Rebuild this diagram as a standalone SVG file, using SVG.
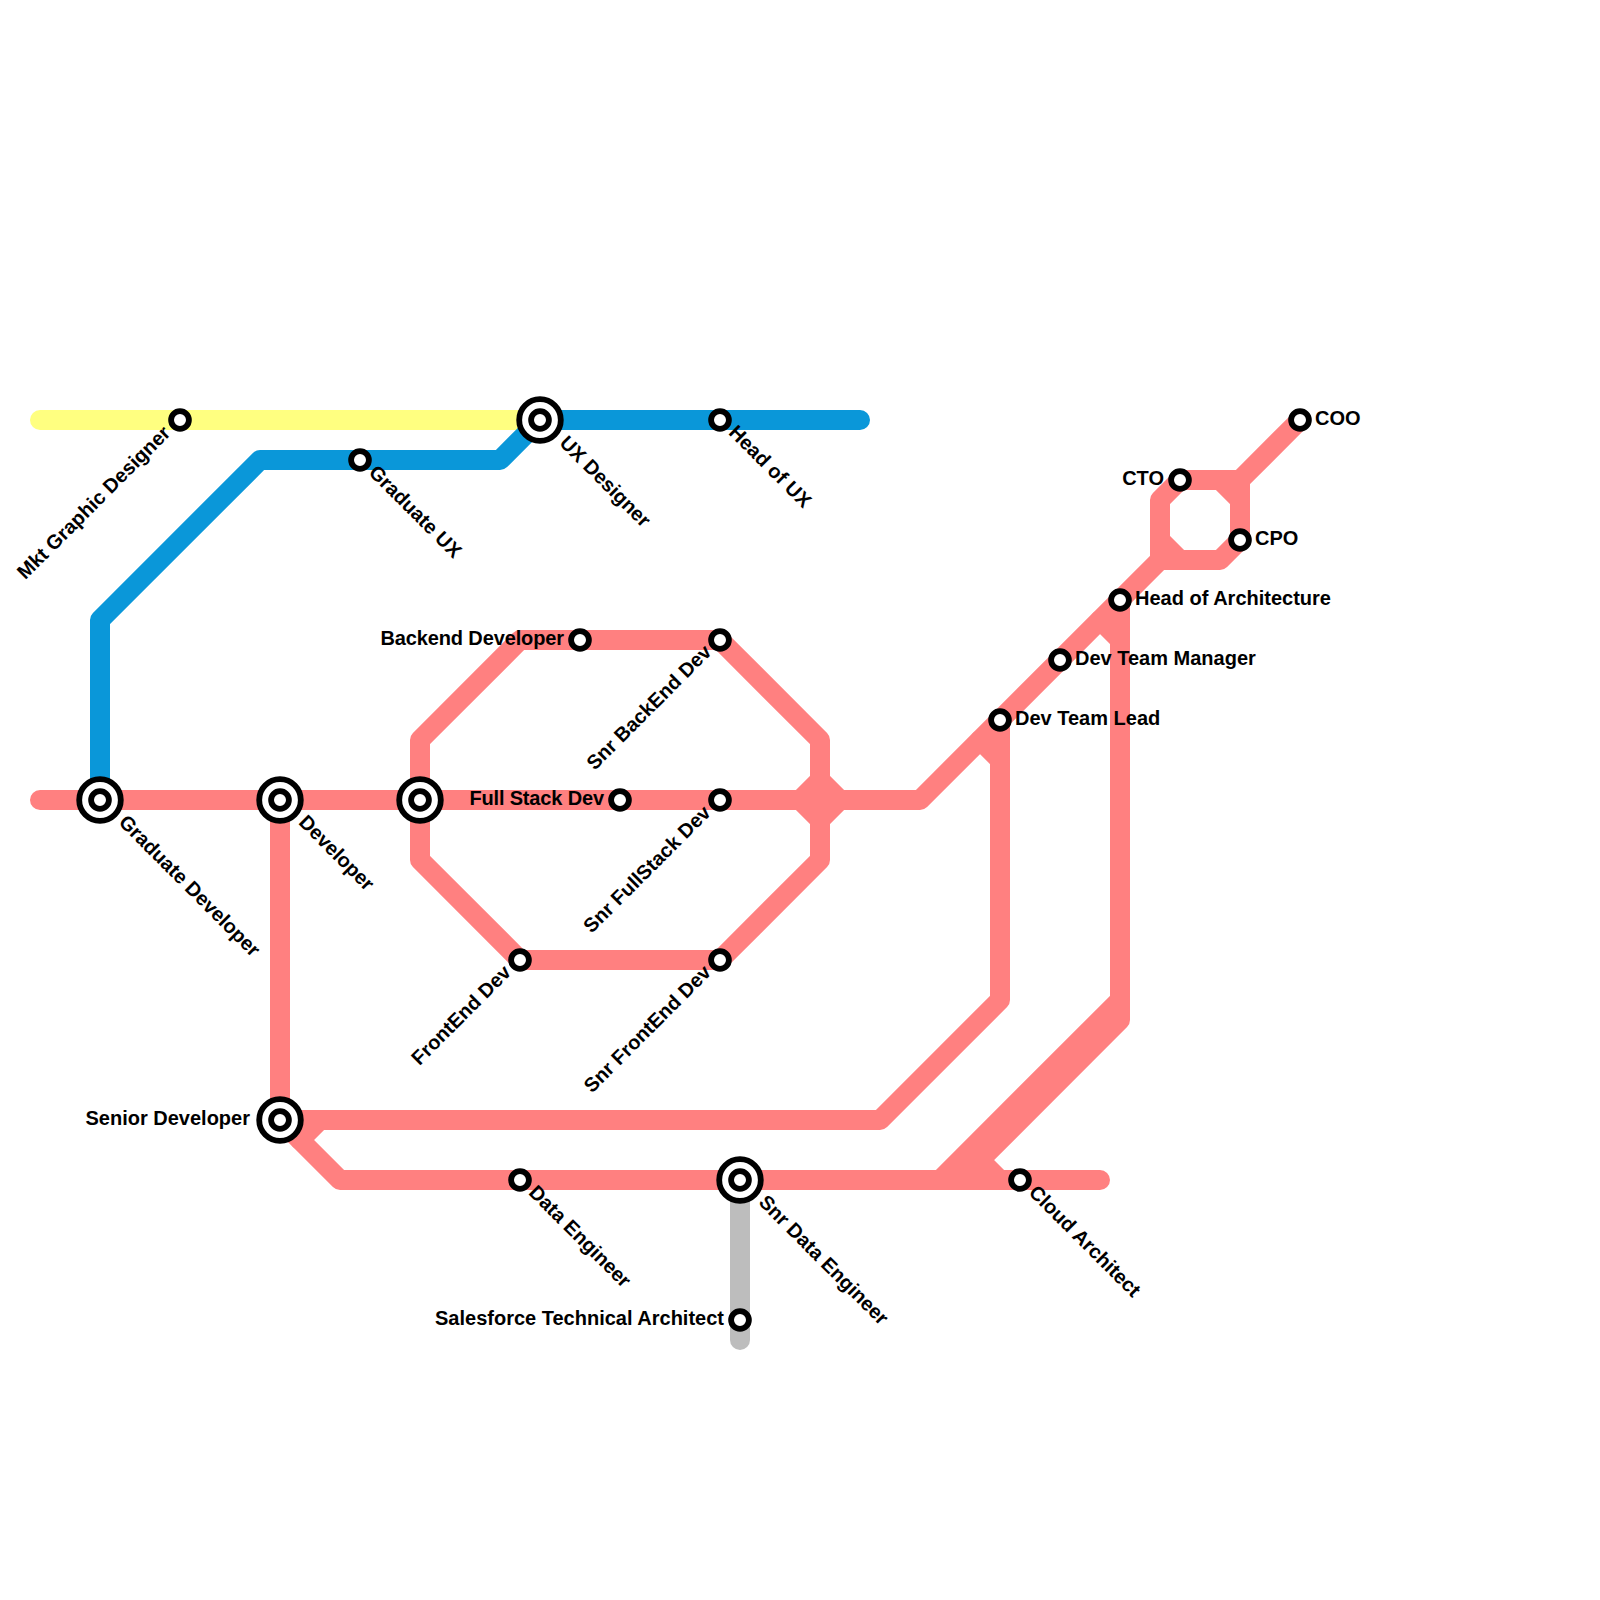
<svg xmlns="http://www.w3.org/2000/svg" width="1600" height="1600" viewBox="0 0 1600 1600">
<style>
.l{fill:none;stroke-width:20;stroke-linecap:round;stroke-linejoin:round}
.p{stroke:#ff8080}.y{stroke:#ffff80}.b{stroke:#0a97d9}.g{stroke:#bdbdbd}
.o{fill:#fff;stroke:#000;stroke-width:5.8}
.i{fill:#fff;stroke:#000;stroke-width:5.8}
text{font-family:"Liberation Sans",Arial,sans-serif;font-weight:bold;font-size:20px;fill:#000}
.e{text-anchor:end}
</style>
<rect width="1600" height="1600" fill="#fff"/>
<defs>
<g id="small"><circle class="i" r="8.9"/></g>
<g id="big"><circle class="o" r="20.8"/><circle class="i" r="8.9"/></g>
</defs>
<g id="connectors">
<path class="l y" d="M40 420H540"/>
<path class="l b" d="M100 800V620L260 460H500L540 420H860"/>
<path class="l g" d="M740 1180V1340"/>
<path class="l p" d="M40 800H920L1160 560"/>
<path class="l p" d="M420 800V740L520 640H720L820 740V860L720 960H520L420 860V800"/>
<path class="l p" d="M800 800L820 780L840 800L820 820Z"/>
<path class="l p" d="M280 800V1120L340 1180H1100"/>
<path class="l p" d="M280 1120H880L1000 1000V720"/>
<path class="l p" d="M1000 760L980 740"/>
<path class="l p" d="M320 1120L300 1140"/>
<path class="l p" d="M940 1180L1120 1000V600"/>
<path class="l p" d="M1120 640L1100 620"/>
<path class="l p" d="M1120 1000V1020L960 1180"/>
<path class="l p" d="M980 1160L1000 1180"/>
<path class="l p" d="M1160 560V500L1180 480H1220L1240 500V540L1220 560H1160"/>
<path class="l p" d="M1160 540L1180 560"/>
<path class="l p" d="M1240 500V480L1300 420"/>
<path class="l p" d="M1220 480H1240"/>
</g>
<g id="n-mkt"><use href="#small" x="180" y="420"/><text class="e" transform="rotate(-45 180 420)" x="164" y="424">Mkt Graphic Designer</text></g>
<g id="n-grad-ux"><use href="#small" x="360" y="460"/><text transform="rotate(45 360 460)" x="375" y="464">Graduate UX</text></g>
<g id="n-ux"><use href="#big" x="540" y="420"/><text transform="rotate(45 540 420)" x="570" y="424">UX Designer</text></g>
<g id="n-head-ux"><use href="#small" x="720" y="420"/><text transform="rotate(45 720 420)" x="735" y="424">Head of UX</text></g>
<g id="n-backend"><use href="#small" x="580" y="640"/><text class="e" x="564" y="645" textLength="183.5">Backend Developer</text></g>
<g id="n-snr-backend"><use href="#small" x="720" y="640"/><text class="e" transform="rotate(-45 720 640)" x="705.5" y="644">Snr BackEnd Dev</text></g>
<g id="n-fullstack"><use href="#small" x="620" y="800"/><text class="e" x="604" y="805" textLength="134.6">Full Stack Dev</text></g>
<g id="n-snr-fullstack"><use href="#small" x="720" y="800"/><text class="e" transform="rotate(-45 720 800)" x="704.5" y="804">Snr FullStack Dev</text></g>
<g id="n-frontend"><use href="#small" x="520" y="960"/><text class="e" transform="rotate(-45 520 960)" x="505" y="964">FrontEnd Dev</text></g>
<g id="n-snr-frontend"><use href="#small" x="720" y="960"/><text class="e" transform="rotate(-45 720 960)" x="705" y="964">Snr FrontEnd Dev</text></g>
<g id="n-grad-dev"><use href="#big" x="100" y="800"/><text transform="rotate(45 100 800)" x="129" y="804">Graduate Developer</text></g>
<g id="n-dev"><use href="#big" x="280" y="800"/><text transform="rotate(45 280 800)" x="309" y="804">Developer</text></g>
<g id="n-hub"><use href="#big" x="420" y="800"/></g>
<g id="n-senior"><use href="#big" x="280" y="1120"/><text class="e" x="250" y="1125">Senior Developer</text></g>
<g id="n-data"><use href="#small" x="520" y="1180"/><text transform="rotate(45 520 1180)" x="535" y="1184">Data Engineer</text></g>
<g id="n-snr-data"><use href="#big" x="740" y="1180"/><text transform="rotate(45 740 1180)" x="769" y="1184">Snr Data Engineer</text></g>
<g id="n-salesforce"><use href="#small" x="740" y="1320"/><text class="e" x="724" y="1325">Salesforce Technical Architect</text></g>
<g id="n-cloud"><use href="#small" x="1020" y="1180"/><text transform="rotate(45 1020 1180)" x="1035" y="1184">Cloud Architect</text></g>
<g id="n-lead"><use href="#small" x="1000" y="720"/><text x="1015" y="725">Dev Team Lead</text></g>
<g id="n-manager"><use href="#small" x="1060" y="660"/><text x="1075" y="665">Dev Team Manager</text></g>
<g id="n-head-arch"><use href="#small" x="1120" y="600"/><text x="1135" y="605">Head of Architecture</text></g>
<g id="n-cto"><use href="#small" x="1180" y="480"/><text class="e" x="1164" y="485">CTO</text></g>
<g id="n-cpo"><use href="#small" x="1240" y="540"/><text x="1255" y="545">CPO</text></g>
<g id="n-coo"><use href="#small" x="1300" y="420"/><text x="1315" y="425">COO</text></g>
</svg>
